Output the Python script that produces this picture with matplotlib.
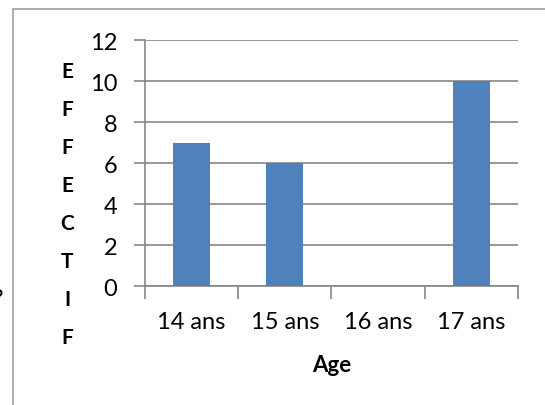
import matplotlib.pyplot as plt
from matplotlib.lines import Line2D

plt.rcParams['font.family'] = ['Lato', 'DejaVu Sans']

ages = ['14 ans', '15 ans', '16 ans', '17 ans']
effectif = [7, 6, 0, 10]
yticks = [0, 2, 4, 6, 8, 10, 12]

grey = '#868686'
blue = '#4F81BD'

fig = plt.figure(figsize=(5.45, 4.06), dpi=100)
ax = fig.add_axes([0.266, 0.293, 0.684, 0.606])

x = list(range(len(ages)))
ax.bar(x, effectif, width=0.4, color=blue, zorder=3)

ax.set_xlim(-0.5, len(ages) - 0.5)
ax.set_ylim(0, 12)
ax.set_yticks(yticks)
ax.yaxis.grid(True, color=grey, linewidth=1.2, zorder=0)

# category boundaries as tick marks, labels at centres
ax.set_xticks([i - 0.5 for i in range(len(ages) + 1)])
ax.set_xticklabels([])
ax.set_xticks(x, minor=True)
ax.set_xticklabels(ages, minor=True)
ax.tick_params(axis='x', which='major', length=9, width=1.2, color=grey, direction='out')
ax.tick_params(axis='x', which='minor', length=0, labelsize=17, pad=18)
ax.tick_params(axis='y', length=8, width=1.2, color=grey, labelsize=17, pad=12)

for s in ['top', 'right']:
    ax.spines[s].set_visible(False)
for s in ['left', 'bottom']:
    ax.spines[s].set_color(grey)
    ax.spines[s].set_linewidth(1.2)

ax.set_xlabel('Age', fontsize=16, fontweight='bold', labelpad=16)

# vertical letters of the y label
fig.text(0.123, 0.495, '\n'.join('EFFECTIF'), fontsize=15, fontweight='bold',
         ha='center', va='center', linespacing=2.13)

# stray characters clipped at the left edge
fig.text(-0.008, 0.618, ':', fontsize=15, ha='left', va='center', color='#333333')
fig.text(-0.014, 0.262, '?', fontsize=17, ha='left', va='center')

# chart frame (left and top edges)
fig.add_artist(Line2D([0.0239, 0.0239], [0.0, 0.975], color='#A0A0A0', linewidth=1.2))
fig.add_artist(Line2D([0.0239, 1.0], [0.975, 0.975], color='#A0A0A0', linewidth=1.2))

fig.savefig('out.png', dpi=100)
